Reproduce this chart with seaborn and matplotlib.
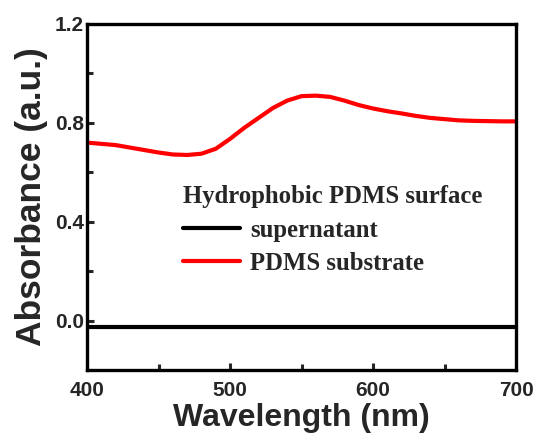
import numpy as np
import pandas as pd
import matplotlib
matplotlib.use("Agg")
import matplotlib.pyplot as plt
import seaborn as sns
from matplotlib.ticker import MultipleLocator

wavelength = [400, 410, 420, 430, 440, 450, 460, 470, 480, 490, 500, 510, 520, 530,
              540, 550, 560, 570, 580, 590, 600, 610, 620, 630, 640, 650, 660, 670,
              680, 690, 700]
pdms_substrate = [0.72, 0.715, 0.71, 0.70, 0.69, 0.68, 0.672, 0.67, 0.675, 0.695, 0.735,
                  0.78, 0.82, 0.86, 0.89, 0.908, 0.91, 0.905, 0.89, 0.872, 0.858, 0.847,
                  0.838, 0.828, 0.82, 0.815, 0.81, 0.808, 0.807, 0.806, 0.806]
supernatant = [-0.025] * len(wavelength)

series_names = ["supernatant", "PDMS substrate"]
legend_title = "Hydrophobic PDMS surface"

df = pd.concat([
    pd.DataFrame({"Wavelength": wavelength, "Absorbance": supernatant, "Sample": series_names[0]}),
    pd.DataFrame({"Wavelength": wavelength, "Absorbance": pdms_substrate, "Sample": series_names[1]}),
])

sns.set_style("ticks")
fig = plt.figure(figsize=(5.39, 4.36), dpi=100)
ax = fig.add_axes([0.1614, 0.1514, 0.7960, 0.7936])

sns.lineplot(data=df, x="Wavelength", y="Absorbance", hue="Sample",
             palette={"supernatant": "black", "PDMS substrate": "#ff0000"},
             linewidth=3, ax=ax)

ax.set_xlim(400, 700)
ax.set_ylim(-0.2, 1.2)
ax.xaxis.set_major_locator(MultipleLocator(100))
ax.xaxis.set_minor_locator(MultipleLocator(50))
ax.yaxis.set_major_locator(MultipleLocator(0.4))
ax.yaxis.set_minor_locator(MultipleLocator(0.2))
ax.set_yticks([0.0, 0.4, 0.8, 1.2])
ax.set_yticklabels(["0.0", "0.4", "0.8", "1.2"])

for sp in ax.spines.values():
    sp.set_linewidth(2.4)
    sp.set_color("black")

ax.tick_params(which="both", direction="in", width=2.2, top=False, right=False)
ax.tick_params(which="major", length=5)
ax.tick_params(which="minor", length=4)
for lab in ax.get_xticklabels() + ax.get_yticklabels():
    lab.set_fontfamily("Liberation Sans")
    lab.set_fontweight("bold")
    lab.set_fontsize(15)
ax.tick_params(axis="x", pad=8)
ax.tick_params(axis="y", pad=2)

ax.set_xlabel("Wavelength (nm)", fontfamily="Liberation Sans", fontweight="bold",
              fontsize=23, labelpad=2)
ax.set_ylabel("Absorbance (a.u.)", fontfamily="Liberation Sans", fontweight="bold",
              fontsize=25.5, labelpad=5)

handles, labels = ax.get_legend_handles_labels()
leg = ax.legend(handles, labels, title=legend_title, frameon=False,
                loc="upper left", bbox_to_anchor=(0.224, 0.534),
                prop={"family": "Liberation Serif", "weight": "bold", "size": 17.8},
                handlelength=2.3, handletextpad=0.4, labelspacing=0.42,
                borderaxespad=0, borderpad=0)
leg.get_title().set_fontfamily("Liberation Serif")
leg.get_title().set_fontweight("bold")
leg.get_title().set_fontsize(17.8)
leg._legend_box.align = "left"
for h in leg.get_lines():
    h.set_linewidth(3)

fig.savefig("out.png", dpi=100)
